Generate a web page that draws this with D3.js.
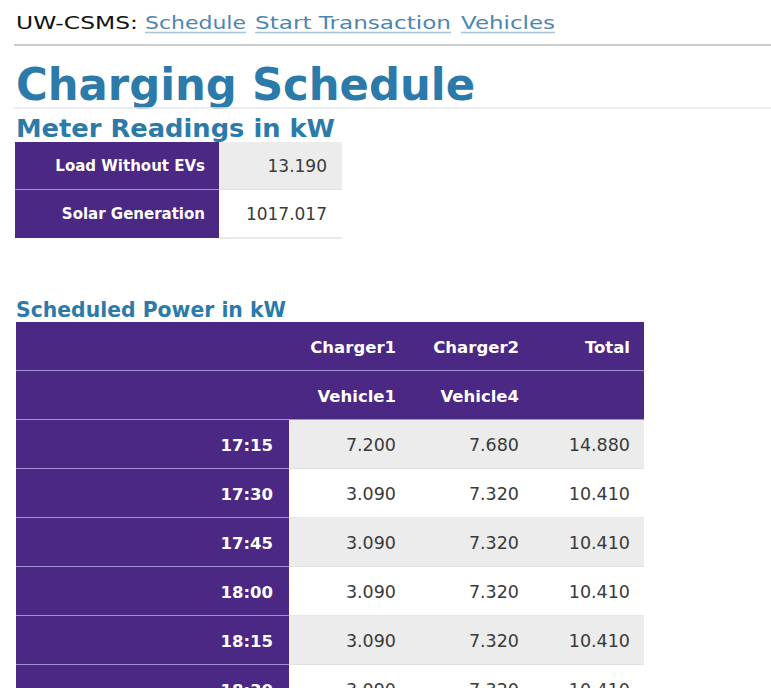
<!DOCTYPE html>
<html>
<head>
<meta charset="utf-8">
<script src="https://cdn.jsdelivr.net/npm/d3@7"></script>
<style>
  body { margin: 0; background: #fff; }
  svg { display: block; font-family: "DejaVu Sans", Verdana, sans-serif; }
</style>
</head>
<body>
<svg id="page" width="771" height="688"></svg>
<script>
// nav
var siteName = "UW-CSMS:";
var navLinks = ["Schedule", "Start Transaction", "Vehicles"];

// meter readings
var meterLabels = ["Load Without EVs", "Solar Generation"];
var meterValues = [13.190, 1017.017];

// scheduled power
var chargers = ["Charger1", "Charger2", "Total"];
var vehicles = ["Vehicle1", "Vehicle4", ""];
var times = ["17:15", "17:30", "17:45", "18:00", "18:15", "18:30"];
var charger1 = [7.200, 3.090, 3.090, 3.090, 3.090, 3.090];
var charger2 = [7.680, 7.320, 7.320, 7.320, 7.320, 7.320];
var totals = [14.880, 10.410, 10.410, 10.410, 10.410, 10.410];

var purple = "#4a2884",
    lavender = "#a390d2",
    blue = "#2c7aa9",
    linkBlue = "#4d86b2",
    fmt = d3.format(".3f");

var svg = d3.select("#page");

//header nav
var navX = [16, 145, 255, 461],
    navW = [122, 101, 196, 94];
var nav = svg.append("g");
nav.selectAll("text")
    .data([siteName].concat(navLinks))
    .join("text")
    .attr("x", function(d, i) { return navX[i]; })
    .attr("y", 29)
    .attr("textLength", function(d, i) { return navW[i]; })
    .attr("lengthAdjust", "spacingAndGlyphs")
    .style("font-size", "18px")
    .style("fill", function(d, i) { return i == 0 ? "#111" : linkBlue; })
    .text(function(d) { return d; });
nav.selectAll("line")
    .data(navLinks)
    .join("line")
    .attr("x1", function(d, i) { return navX[i + 1]; })
    .attr("x2", function(d, i) { return navX[i + 1] + navW[i + 1]; })
    .attr("y1", 32.5).attr("y2", 32.5)
    .style("stroke", "#a9c3d8")
    .style("stroke-width", 1.5);

svg.append("line")
    .attr("x1", 14).attr("x2", 771).attr("y1", 45).attr("y2", 45)
    .style("stroke", "#bdbdbd").style("stroke-width", 1.5);

// titles
svg.append("text")
    .attr("x", 16).attr("y", 100)
    .attr("textLength", 459).attr("lengthAdjust", "spacingAndGlyphs")
    .style("font-size", "44px").style("font-weight", "bold").style("fill", blue)
    .text("Charging Schedule");
svg.append("line")
    .attr("x1", 14).attr("x2", 771).attr("y1", 108).attr("y2", 108)
    .style("stroke", "#e6e6e6").style("stroke-width", 1.5);

svg.append("text")
    .attr("x", 16).attr("y", 137)
    .attr("textLength", 319).attr("lengthAdjust", "spacingAndGlyphs")
    .style("font-size", "25px").style("font-weight", "bold").style("fill", blue)
    .text("Meter Readings in kW");

svg.append("text")
    .attr("x", 16).attr("y", 317)
    .attr("textLength", 270).attr("lengthAdjust", "spacingAndGlyphs")
    .style("font-size", "22px").style("font-weight", "bold").style("fill", blue)
    .text("Scheduled Power in kW");

// meter table
var my = d3.scaleBand().domain(d3.range(meterLabels.length)).range([142, 238]);
var meter = svg.append("g");
var mrow = meter.selectAll("g")
    .data(meterLabels)
    .join("g")
    .attr("transform", function(d, i) { return "translate(0," + my(i) + ")"; });
mrow.append("rect")
    .attr("x", 15).attr("width", 204).attr("height", my.bandwidth())
    .style("fill", purple);
mrow.append("rect")
    .attr("x", 219).attr("width", 123).attr("height", my.bandwidth())
    .style("fill", function(d, i) { return i % 2 == 0 ? "#ececec" : "#fff"; });
// separator only between rows
mrow.filter(function(d, i) { return i < meterLabels.length - 1; })
    .append("line")
    .attr("x1", 15).attr("x2", 219).attr("y1", my.bandwidth()).attr("y2", my.bandwidth())
    .style("stroke", lavender).style("stroke-width", 2);
mrow.append("line")
    .attr("x1", 219).attr("x2", 342).attr("y1", my.bandwidth()).attr("y2", my.bandwidth())
    .style("stroke", "#e2e2e2").style("stroke-width", 1.5);
mrow.append("text")
    .attr("x", 205).attr("y", my.bandwidth() / 2 + 5)
    .attr("text-anchor", "end")
    .style("font-size", "15px").style("font-weight", "bold").style("fill", "#fff")
    .text(function(d) { return d; });
mrow.append("text")
    .attr("x", 327).attr("y", my.bandwidth() / 2 + 6)
    .attr("text-anchor", "end")
    .style("font-size", "17px").style("fill", "#3a3a3a")
    .text(function(d, i) { return fmt(meterValues[i]); });

// scheduled power table
var colEdge = [16, 289, 410, 533, 644];
var ry = d3.scaleLinear().domain([0, 1]).range([322, 371]);
var rowH = ry(1) - ry(0);
var tbl = svg.append("g");

// two header rows
var hrows = [chargers, vehicles];
var hrow = tbl.selectAll("g.hrow")
    .data(hrows)
    .join("g")
    .attr("class", "hrow")
    .attr("transform", function(d, i) { return "translate(0," + ry(i) + ")"; });
hrow.append("rect")
    .attr("x", colEdge[0]).attr("width", colEdge[4] - colEdge[0]).attr("height", rowH)
    .style("fill", purple);
hrow.append("line")
    .attr("x1", colEdge[0]).attr("x2", colEdge[4]).attr("y1", rowH).attr("y2", rowH)
    .style("stroke", lavender).style("stroke-width", 2);
hrow.selectAll("text")
    .data(function(d) { return d; })
    .join("text")
    .attr("x", function(d, j) { return colEdge[j + 2] - 14; })
    .attr("y", rowH / 2 + 6)
    .attr("text-anchor", "end")
    .style("font-size", "16.5px").style("font-weight", "bold").style("fill", "#fff")
    .text(function(d) { return d; });

// data rows
var drow = tbl.selectAll("g.drow")
    .data(times)
    .join("g")
    .attr("class", "drow")
    .attr("transform", function(d, i) { return "translate(0," + ry(i + 2) + ")"; });
drow.append("rect")
    .attr("x", colEdge[0]).attr("width", colEdge[1] - colEdge[0]).attr("height", rowH)
    .style("fill", purple);
drow.append("rect")
    .attr("x", colEdge[1]).attr("width", colEdge[4] - colEdge[1]).attr("height", rowH)
    .style("fill", function(d, i) { return i % 2 == 0 ? "#ececec" : "#fff"; });
drow.append("line")
    .attr("x1", colEdge[0]).attr("x2", colEdge[1]).attr("y1", rowH).attr("y2", rowH)
    .style("stroke", lavender).style("stroke-width", 2);
drow.append("line")
    .attr("x1", colEdge[1]).attr("x2", colEdge[4]).attr("y1", rowH).attr("y2", rowH)
    .style("stroke", "#e0e0e0").style("stroke-width", 1.5);
drow.append("text")
    .attr("x", colEdge[1] - 16).attr("y", rowH / 2 + 6)
    .attr("text-anchor", "end")
    .style("font-size", "16.5px").style("font-weight", "bold").style("fill", "#fff")
    .text(function(d) { return d; });
drow.selectAll("text.val")
    .data(function(d, i) { return [charger1[i], charger2[i], totals[i]]; })
    .join("text")
    .attr("class", "val")
    .attr("x", function(d, j) { return colEdge[j + 2] - 14; })
    .attr("y", rowH / 2 + 6)
    .attr("text-anchor", "end")
    .style("font-size", "17.5px").style("fill", "#3a3a3a")
    .text(function(d) { return fmt(d); });
</script>
</body>
</html>
